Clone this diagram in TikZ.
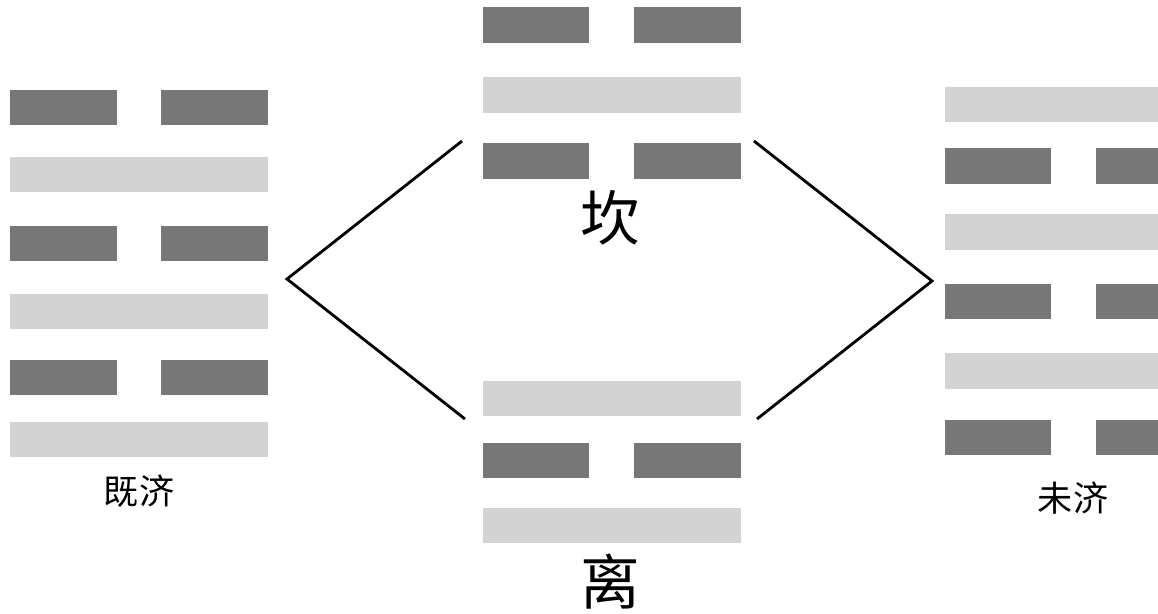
\documentclass[tikz,border=0pt]{standalone}
\usepackage{fontspec}
\newfontfamily\cjk{Noto Sans CJK SC}
\definecolor{oscuro}{RGB}{120,119,120}
\definecolor{claro}{RGB}{211,211,211}
\begin{document}
\begin{tikzpicture}[x=0.02cm,y=-0.02cm,
    yin/.style={fill=oscuro},
    yang/.style={fill=claro},
    grande/.style={font=\cjk\fontsize{34}{40}\selectfont},
    chico/.style={font=\cjk\fontsize{20}{24}\selectfont},
    linea/.style={line width=1.6pt}]
    \clip (0,0) rectangle (1158,613);
    % Hexagrama izquierdo
    \fill[yin] (10,90) rectangle (117,125);
    \fill[yin] (161,90) rectangle (268,125);
    \fill[yang] (10,157) rectangle (268,192);
    \fill[yin] (10,226) rectangle (117,261);
    \fill[yin] (161,226) rectangle (268,261);
    \fill[yang] (10,294) rectangle (268,329);
    \fill[yin] (10,360) rectangle (117,395);
    \fill[yin] (161,360) rectangle (268,395);
    \fill[yang] (10,422) rectangle (268,457);
    \node[chico] (jiji) at (139,491) {既济};
    % Trigrama de arriba
    \fill[yin] (483,7) rectangle (589,43);
    \fill[yin] (634,7) rectangle (741,43);
    \fill[yang] (483,77) rectangle (741,113);
    \fill[yin] (483,143) rectangle (589,179);
    \fill[yin] (634,143) rectangle (741,179);
    \node[grande] (kan) at (610,218) {坎};
    % Trigrama de abajo
    \fill[yang] (483,381) rectangle (741,416);
    \fill[yin] (483,443) rectangle (589,478);
    \fill[yin] (634,443) rectangle (741,478);
    \fill[yang] (483,508) rectangle (741,543);
    \node[grande] (li) at (610,582) {离};
    % Hexagrama derecho
    \fill[yang] (945,87) rectangle (1203,122);
    \fill[yin] (945,148) rectangle (1051,184);
    \fill[yin] (1096,148) rectangle (1203,184);
    \fill[yang] (945,214) rectangle (1203,250);
    \fill[yin] (945,284) rectangle (1051,319);
    \fill[yin] (1096,284) rectangle (1203,319);
    \fill[yang] (945,353) rectangle (1203,389);
    \fill[yin] (945,420) rectangle (1051,455);
    \fill[yin] (1096,420) rectangle (1203,455);
    \node[chico] (weiji) at (1073,498) {未济};
    % Lineas
    \coordinate (kanI) at (462,141);
    \coordinate (liI) at (465,419);
    \coordinate (jijiV) at (287,279);
    \coordinate (kanD) at (754,141);
    \coordinate (liD) at (757,419);
    \coordinate (weijiV) at (932,281);
    \draw[linea] (kanI) -- (jijiV) -- (liI);
    \draw[linea] (kanD) -- (weijiV) -- (liD);
\end{tikzpicture}
\end{document}
